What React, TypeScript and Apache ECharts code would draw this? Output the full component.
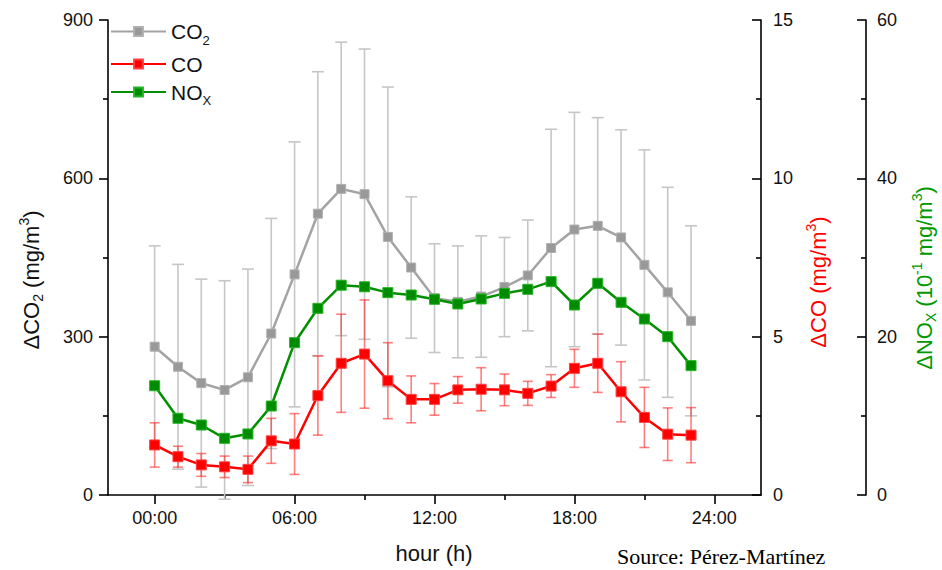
import React, { useEffect, useRef } from "react";
import * as echarts from "echarts";

const hours = [0, 1, 2, 3, 4, 5, 6, 7, 8, 9, 10, 11, 12, 13, 14, 15, 16, 17, 18, 19, 20, 21, 22, 23];
const co2 = [281, 243, 212, 199, 223, 306, 418, 533, 580, 570, 489, 431, 373, 366, 376, 394, 416, 468, 503, 510, 488, 436, 384, 330];
const co2Err = [191, 194, 197, 207, 205, 218, 251, 269, 278, 275, 284, 134, 103, 106, 115, 94, 105, 225, 222, 205, 204, 218, 199, 180];
const co = [1.58, 1.21, 0.95, 0.89, 0.81, 1.71, 1.61, 3.14, 4.16, 4.45, 3.61, 3.02, 3.02, 3.32, 3.34, 3.32, 3.21, 3.44, 4.0, 4.16, 3.26, 2.45, 1.92, 1.89];
const coErr = [0.7, 0.33, 0.36, 0.34, 0.42, 0.71, 0.96, 1.25, 1.55, 1.71, 1.2, 0.74, 0.5, 0.42, 0.68, 0.5, 0.38, 0.36, 0.6, 0.92, 0.95, 0.95, 0.83, 0.87];
const nox = [13.8, 9.69, 8.84, 7.16, 7.71, 11.24, 19.24, 23.58, 26.5, 26.3, 25.56, 25.26, 24.72, 24.13, 24.76, 25.47, 25.98, 26.95, 24.0, 26.74, 24.34, 22.23, 20.0, 16.34];
const xMajorTicks = [0, 6, 12, 18, 24];
const xMinorTicks = [3, 9, 15, 21];

const FONT = "Liberation Sans, Arial, sans-serif";
const GRAY = "#a3a3a3";
const RED = "#ff0000";
const GREEN = "#009000";

function errRender(color: string, cap: number, lw: number) {
  return (_params: any, api: any) => {
    const x = api.value(0);
    const lo = api.coord([x, api.value(1)]);
    const hi = api.coord([x, api.value(2)]);
    const h = cap / 2;
    const style = { stroke: color, lineWidth: lw, fill: "none" };
    return {
      type: "group",
      children: [
        { type: "line", shape: { x1: lo[0], y1: lo[1], x2: hi[0], y2: hi[1] }, style },
        { type: "line", shape: { x1: lo[0] - h, y1: lo[1], x2: lo[0] + h, y2: lo[1] }, style },
        { type: "line", shape: { x1: hi[0] - h, y1: hi[1], x2: hi[0] + h, y2: hi[1] }, style },
      ],
    };
  };
}

function richFor(color: string, size: number) {
  const small = Math.round(size * 0.62);
  return {
    n: { fontSize: size, fontFamily: FONT, fill: color, color, lineHeight: 28 },
    sub: { fontSize: small, fontFamily: FONT, fill: color, color, lineHeight: small, verticalAlign: "bottom" },
    sup: { fontSize: small, fontFamily: FONT, fill: color, color, lineHeight: small, verticalAlign: "top" },
  };
}

function titleText(x: number, y: number, text: string, color: string) {
  return {
    type: "text",
    x,
    y,
    rotation: Math.PI / 2,
    style: {
      text,
      rich: richFor(color, 22),
      fill: color,
      align: "center",
      verticalAlign: "middle",
      textAlign: "center",
      textVerticalAlign: "middle",
    },
  };
}

const axisLineStyle = { color: "#000", width: 1.6 };
const labelStyle = { fontSize: 18, color: "#111", fontFamily: FONT };
const gridBox = { left: 108, right: 181, top: 20, bottom: 75, containLabel: false };

export default function App() {
  const ref = useRef<HTMLDivElement>(null);
  useEffect(() => {
    document.body.style.margin = "0";
    const chart = echarts.init(ref.current!, null, { renderer: "svg" });
    const pad = (v: number) => (v < 10 ? "0" + v : "" + v) + ":00";
    const legendNames: Record<string, string> = {
      CO2: "{n|CO}{sub|2}",
      CO: "{n|CO}",
      NOx: "{n|NO}{sub|X}",
    };
    chart.setOption({
      animation: false,
      textStyle: { fontFamily: FONT },
      grid: [gridBox, { ...gridBox }],
      legend: {
        data: ["CO2", "CO", "NOx"],
        orient: "vertical",
        left: 110,
        top: 21,
        padding: 0,
        itemWidth: 55,
        itemHeight: 11,
        itemGap: 7,
        formatter: (name: string) => legendNames[name] || name,
        textStyle: {
          fontSize: 21,
          color: "#111",
          fontFamily: FONT,
          rich: {
            n: { fontSize: 21, color: "#111", fontFamily: FONT, lineHeight: 22 },
            sub: { fontSize: 13, color: "#111", fontFamily: FONT, lineHeight: 13, verticalAlign: "bottom", padding: [0, 0, -4, 0] },
          },
        },
      },
      xAxis: [
        {
          type: "value",
          gridIndex: 0,
          min: -2,
          max: 26,
          position: "bottom",
          axisLine: { show: true, onZero: false, lineStyle: axisLineStyle },
          axisTick: { show: true, customValues: xMajorTicks, length: 9, lineStyle: axisLineStyle },
          axisLabel: { show: true, customValues: xMajorTicks, formatter: (v: number) => pad(v), margin: 14, ...labelStyle },
          splitLine: { show: false },
        },
        {
          type: "value",
          gridIndex: 1,
          min: -2,
          max: 26,
          position: "bottom",
          axisLine: { show: false, onZero: false },
          axisTick: { show: true, customValues: xMinorTicks, length: 5, lineStyle: axisLineStyle },
          axisLabel: { show: false },
          splitLine: { show: false },
        },
      ],
      yAxis: [
        {
          type: "value",
          gridIndex: 0,
          min: 0,
          max: 900,
          interval: 300,
          position: "left",
          axisLine: { show: true, onZero: false, lineStyle: axisLineStyle },
          axisTick: { show: true, length: 9, lineStyle: axisLineStyle },
          minorTick: { show: true, splitNumber: 2, length: 5, lineStyle: axisLineStyle },
          axisLabel: { margin: 15, ...labelStyle },
          splitLine: { show: false },
        },
        {
          type: "value",
          gridIndex: 0,
          min: 0,
          max: 15,
          interval: 5,
          position: "right",
          axisLine: { show: true, onZero: false, lineStyle: axisLineStyle },
          axisTick: { show: true, inside: true, length: 9, lineStyle: axisLineStyle },
          minorTick: { show: true, splitNumber: 2, length: 5, lineStyle: axisLineStyle },
          axisLabel: { margin: 12, ...labelStyle },
          splitLine: { show: false },
        },
        {
          type: "value",
          gridIndex: 0,
          min: 0,
          max: 60,
          interval: 20,
          position: "right",
          offset: 105,
          axisLine: { show: true, onZero: false, lineStyle: axisLineStyle },
          axisTick: { show: true, inside: true, length: 9, lineStyle: axisLineStyle },
          minorTick: { show: true, splitNumber: 2, length: 5, lineStyle: axisLineStyle },
          axisLabel: { margin: 11, ...labelStyle },
          splitLine: { show: false },
        },
        {
          type: "value",
          gridIndex: 1,
          min: 0,
          max: 1,
          show: false,
        },
      ],
      series: [
        {
          type: "custom",
          name: "co2err",
          xAxisIndex: 0,
          yAxisIndex: 0,
          silent: true,
          z: 1,
          encode: { x: 0, y: [1, 2] },
          data: hours.map((h, i) => [h, co2[i] - co2Err[i], co2[i] + co2Err[i]]),
          renderItem: errRender("#c6c6c6", 12, 1.6),
        },
        {
          type: "custom",
          name: "coerr",
          xAxisIndex: 0,
          yAxisIndex: 1,
          silent: true,
          z: 1,
          encode: { x: 0, y: [1, 2] },
          data: hours.map((h, i) => [h, co[i] - coErr[i], co[i] + coErr[i]]),
          renderItem: errRender("rgba(255,40,40,0.6)", 10, 1.6),
        },
        {
          type: "line",
          name: "CO2",
          xAxisIndex: 0,
          yAxisIndex: 0,
          z: 3,
          data: hours.map((h, i) => [h, co2[i]]),
          symbol: "rect",
          symbolSize: 9,
          showAllSymbol: true,
          lineStyle: { color: GRAY, width: 2.5 },
          itemStyle: { color: "#999999", borderColor: "#b0b0b0", borderWidth: 1 },
        },
        {
          type: "line",
          name: "NOx",
          xAxisIndex: 0,
          yAxisIndex: 2,
          z: 4,
          data: hours.map((h, i) => [h, nox[i]]),
          symbol: "rect",
          symbolSize: 10,
          showAllSymbol: true,
          lineStyle: { color: GREEN, width: 2.5 },
          itemStyle: { color: "#008c00", borderColor: "#22b422", borderWidth: 1 },
        },
        {
          type: "line",
          name: "CO",
          xAxisIndex: 0,
          yAxisIndex: 1,
          z: 5,
          data: hours.map((h, i) => [h, co[i]]),
          symbol: "rect",
          symbolSize: 10,
          showAllSymbol: true,
          lineStyle: { color: RED, width: 2.5 },
          itemStyle: { color: RED, borderColor: "#ff4040", borderWidth: 1 },
        },
      ],
      graphic: [
        titleText(31, 280, "{n|ΔCO}{sub|2}{n| (mg/m}{sup|3}{n|)}", "#111"),
        titleText(818, 282, "{n|ΔCO (mg/m}{sup|3}{n|)}", RED),
        titleText(924, 278, "{n|ΔNO}{sub|X}{n| (10}{sup|-1}{n| mg/m}{sup|3}{n|)}", "#009900"),
        {
          type: "text",
          x: 434,
          y: 553,
          style: {
            text: "hour (h)",
            fontSize: 22,
            fontFamily: FONT,
            fill: "#111",
            align: "center",
            verticalAlign: "middle",
            textAlign: "center",
            textVerticalAlign: "middle",
          },
        },
        {
          type: "text",
          x: 617,
          y: 556,
          style: {
            text: "Source: Pérez-Martínez",
            fontSize: 22,
            fontFamily: "Liberation Serif, Times New Roman, serif",
            fill: "#000",
            align: "left",
            verticalAlign: "middle",
            textAlign: "left",
            textVerticalAlign: "middle",
          },
        },
      ],
    });
    return () => chart.dispose();
  }, []);
  return <div ref={ref} style={{ width: 942, height: 570, overflow: "hidden" }} />;
}
